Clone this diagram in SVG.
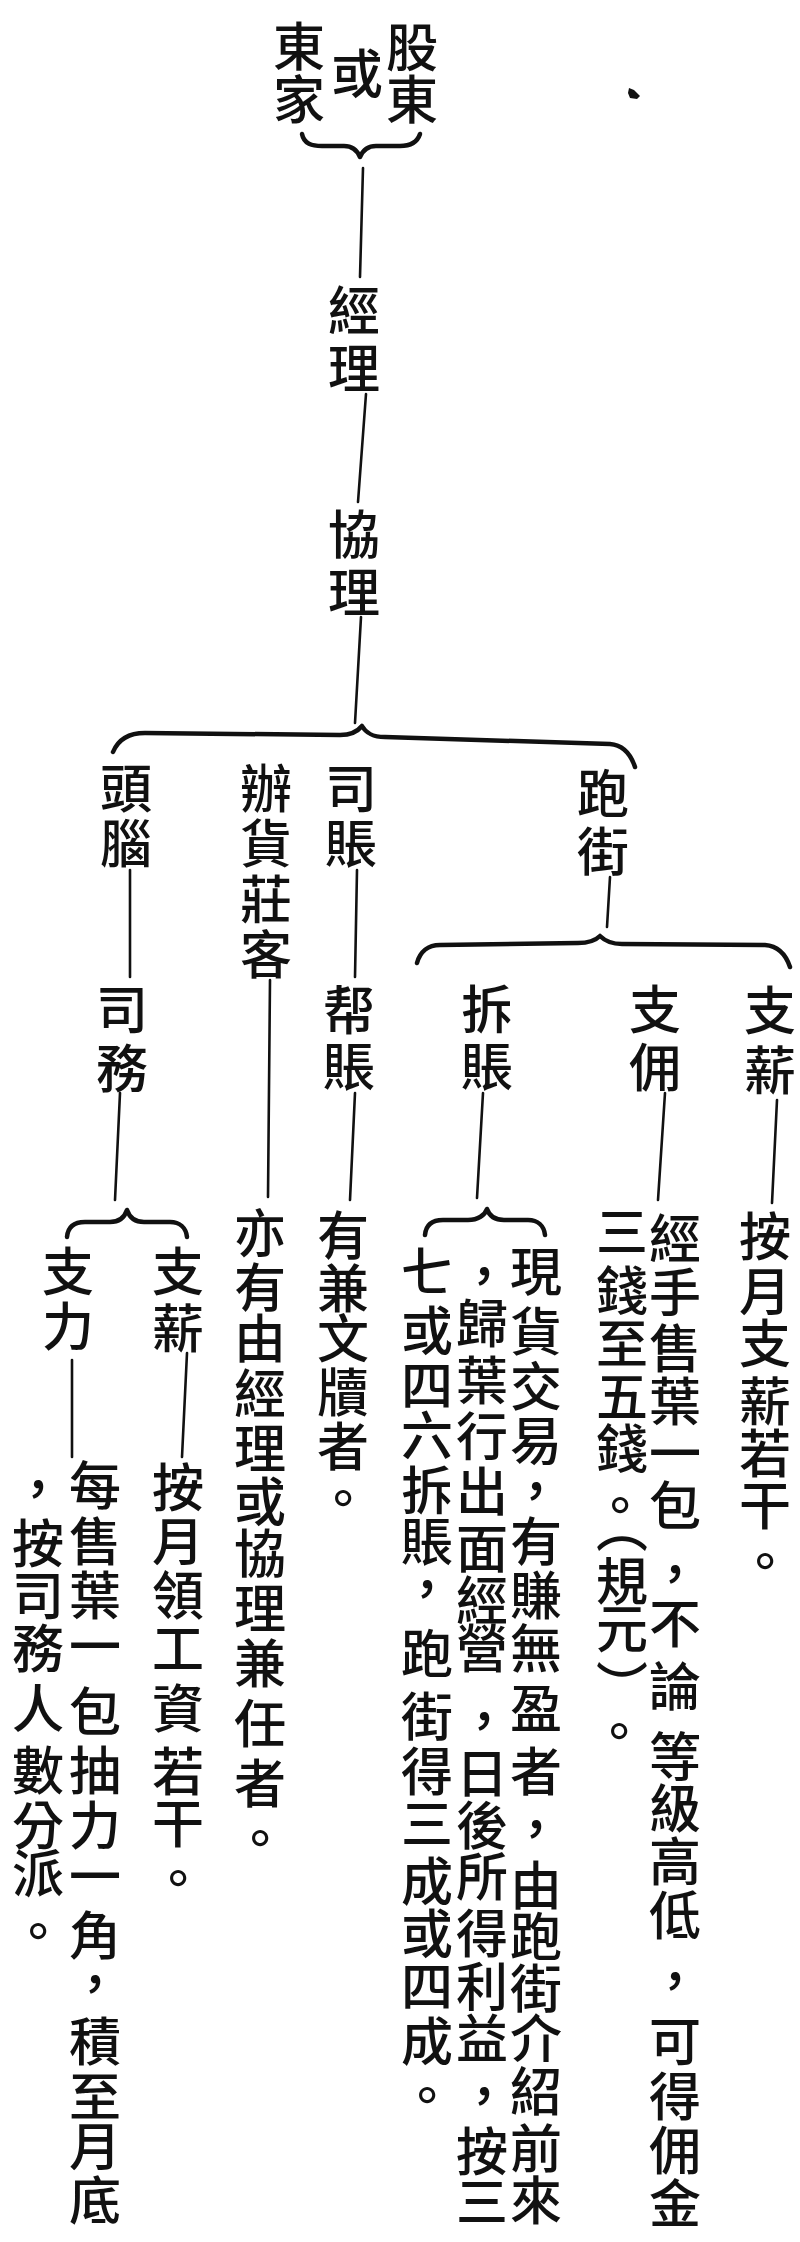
<svg xmlns="http://www.w3.org/2000/svg" width="800" height="2242" viewBox="0 0 800 2242">
<style>
text{font-family:"Noto Sans CJK TC","Noto Sans CJK SC",sans-serif;font-size:52px;font-weight:500;text-anchor:middle;dominant-baseline:central;fill:#111;}
.ln{stroke:#111;stroke-width:2.6;fill:none;stroke-linecap:round;}
.br{stroke:#111;stroke-width:4.5;fill:none;stroke-linecap:round;stroke-linejoin:round;}
</style>
<rect width="800" height="2242" fill="#fff"/>
<g id="connectors">
<path class="br" d="M302,134 C304,144 312,146 322,146 L344,146 C352,146 357,150 360,157 C363,150 368,146 376,146 L400,146 C410,146 417,143 420,134"/>
<path class="ln" d="M363,168 L360,277"/>
<path class="ln" d="M366,394 L358,502"/>
<path class="ln" d="M361,617 L355,723"/>
<path class="br" d="M113,752 C118,740 128,733 145,733 L340,735 C352,735 358,731 362,726 C366,733 372,737 385,737 L610,744 C622,745 630,752 635,767"/>
<path class="ln" d="M130,870 L130,977"/>
<path class="ln" d="M120,1093 L115,1200"/>
<path class="br" d="M67,1237 C68,1226 75,1222 85,1222 L110,1222 C120,1222 125,1216 127,1210 C129,1216 134,1222 144,1222 L170,1222 C180,1222 186,1228 187,1237"/>
<path class="ln" d="M270,980 L268,1197"/>
<path class="ln" d="M357,870 L355,977"/>
<path class="ln" d="M355,1093 L350,1200"/>
<path class="ln" d="M610,877 L607,927"/>
<path class="br" d="M417,963 C420,952 428,945 440,945 L578,943 C590,943 596,940 600,936 C604,940 610,944 622,944 L765,945 C778,946 786,955 790,967"/>
<path class="ln" d="M483,1093 L477,1198"/>
<path class="br" d="M425,1235 C426,1224 433,1220 443,1220 L468,1220 C478,1220 485,1215 487,1209 C489,1215 494,1220 504,1220 L528,1220 C538,1220 544,1226 545,1235"/>
<path class="ln" d="M665,1093 L658,1200"/>
<path class="ln" d="M777,1100 L772,1203"/>
<path class="ln" d="M72,1360 L72,1457"/>
<path class="ln" d="M187,1353 L182,1457"/>
</g>
<path d="M629,88 L634,90 L640,96 L637,99 L630,98 L628,93 Z" fill="#111"/>
<g id="n-gudong"><text x="412 412" y="44 96">股東</text></g>
<g id="n-huo"><text x="357" y="70">或</text></g>
<g id="n-dongjia"><text x="299 299" y="43 96">東家</text></g>
<g id="n-jingli"><text x="354 354" y="307 365">經理</text></g>
<g id="n-xieli"><text x="354 354" y="531 589">協理</text></g>
<g id="n-tounao"><text x="126 126" y="785 840">頭腦</text></g>
<g id="n-banhuozhuangke"><text x="266 266 266 266" y="785 840 896 951">辦貨莊客</text></g>
<g id="n-sizhang"><text x="351 351" y="785 840">司賬</text></g>
<g id="n-paojie"><text x="603 603" y="790 848">跑街</text></g>
<g id="n-siwu"><text x="122 122" y="1006 1065">司務</text></g>
<g id="n-bangzhang"><text x="349 349" y="1007 1063">帮賬</text></g>
<g id="n-chaizhang"><text x="487 487" y="1006 1063">拆賬</text></g>
<g id="n-zhiyong"><text x="655 655" y="1006 1064">支佣</text></g>
<g id="n-zhixin"><text x="770 770" y="1007 1067">支薪</text></g>
<g id="n-zhili"><text x="68 68" y="1268 1323">支力</text></g>
<g id="n-zhixin2"><text x="178 178" y="1268 1325">支薪</text></g>
<g id="n-zhili-desc">
<text x="95 95 95 95 95 95 95 95 95 95 95 95 95 95" y="1482 1538 1592 1643 1708 1767 1822 1873 1932 1980 2038 2093 2143 2197">每售葉一包抽力一角，積至月底</text>
<text x="38 38 38 38 38 38 38 38 38" y="1485 1540 1592 1645 1705 1767 1822 1870 1928">，按司務人數分派。</text>
</g>
<g id="n-zhixin2-desc">
<text x="178 178 178 178 178 178 178 178" y="1484 1538 1592 1645 1705 1768 1820 1875">按月領工資若干。</text>
</g>
<g id="n-banhuo-desc">
<text x="260 260 260 260 260 260 260 260 260 260 260 260" y="1230 1284 1335 1390 1445 1498 1550 1605 1660 1720 1780 1835">亦有由經理或協理兼任者。</text>
</g>
<g id="n-bangzhang-desc">
<text x="343 343 343 343 343 343" y="1232 1285 1335 1389 1443 1495">有兼文牘者。</text>
</g>
<g id="n-chaizhang-desc">
<text x="536 536 536 536 536 536 536 536 536 536 536 536 536 536 536 536 536 536" y="1268 1328 1383 1437 1487 1538 1592 1645 1705 1768 1825 1882 1933 1985 2035 2088 2145 2197">現貨交易，有賺無盈者，由跑街介紹前來</text>
<text x="484 482 482 482 482 482 482 482 484 482 482 482 482 482 482 484 482 482" y="1272 1320 1377 1433 1488 1545 1597 1645 1717 1770 1822 1873 1930 1983 2035 2092 2148 2198">，歸葉行出面經營，日後所得利益，按三</text>
<text x="427 427 427 427 427 427 427 427 427 427 427 427 427 427 427 427" y="1268 1327 1382 1432 1487 1538 1585 1650 1713 1768 1820 1878 1930 1983 2038 2092">七或四六拆賬，跑街得三成或四成。</text>
</g>
<g id="n-zhiyong-desc">
<text x="675 675 675 675 675 675 675 675 675 675 675 675 675 675 675 675 675 675" y="1235 1289 1345 1398 1450 1502 1570 1620 1683 1753 1805 1858 1912 1977 2038 2093 2147 2200">經手售葉一包，不論等級高低，可得佣金</text>
<text x="622 622 622 622 622 620 622 622 622 622 619" y="1228 1287 1340 1393 1445 1502 1524 1578 1625 1683 1728">三錢至五錢。︵規元︶。</text>
</g>
<g id="n-zhixin-desc">
<text x="765 765 765 765 765 765 765" y="1233 1288 1340 1398 1450 1502 1558">按月支薪若干。</text>
</g>
</svg>
